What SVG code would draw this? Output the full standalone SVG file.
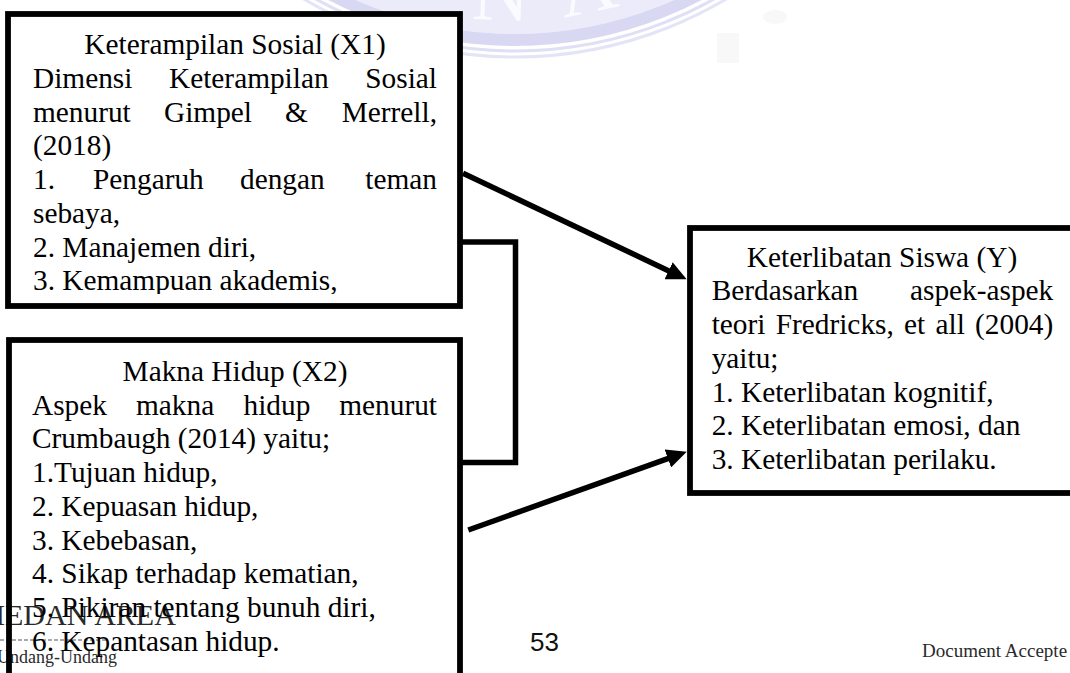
<svg xmlns="http://www.w3.org/2000/svg" width="1070" height="673" viewBox="0 0 1070 673">
<style>
.t{font-family:"Liberation Serif","Times New Roman",serif;font-size:29.33px;fill:#000}
.e{text-anchor:end}
.m{text-anchor:middle}
.box{fill:#fff;stroke:#000;stroke-width:5.8}
.open{fill:none}
.conn{fill:none;stroke:#000;stroke-width:5.5}
.ft{font-family:"Liberation Serif","Times New Roman",serif;fill:#2a2a2a}
.pg{font-family:"Liberation Sans",Arial,sans-serif;fill:#111}
</style>
<defs>
<marker id="ah" markerUnits="userSpaceOnUse" viewBox="0 0 20 19" markerWidth="20" markerHeight="19" refX="5" refY="9.5" orient="auto">
<path d="M0,0 L20,9.5 L0,19 Z" fill="#000"/>
</marker>
<clipPath id="c1"><rect x="12" y="17" width="445" height="277"/></clipPath>
</defs>
<rect width="1070" height="673" fill="#fff"/>
<g id="watermark">
<circle cx="515" cy="-356" r="362" fill="none" stroke="#ebebfa" stroke-width="56"/>
<circle cx="515" cy="-356" r="396" fill="none" stroke="#d8d8f3" stroke-width="12"/>
<circle cx="515" cy="-356" r="407" fill="none" stroke="#dfdff6" stroke-width="3"/>
<circle cx="515" cy="-356" r="413" fill="none" stroke="#e4e4f7" stroke-width="3"/>
<text x="500" y="20" font-family="Liberation Serif" font-size="80" fill="#fafaff" text-anchor="middle" transform="rotate(2 500 20)">N</text>
<text x="592" y="12" font-family="Liberation Serif" font-size="80" fill="#fafaff" text-anchor="middle" transform="rotate(-12 592 12)">A</text>
<rect x="717" y="33" width="22" height="30" fill="#f8f8f9"/>
<ellipse cx="775" cy="17" rx="12" ry="7" fill="#f8f8f9"/>
</g>
<g id="footer">
<text class="ft" x="-21.7" y="625" font-size="30">MEDAN AREA</text>
<line x1="0" y1="640" x2="108" y2="640" stroke="#555" stroke-width="1" stroke-dasharray="4 2"/>
<text class="ft" x="-3" y="663" font-size="18">Undang-Undang</text>
<text class="pg" x="530" y="650.5" font-size="26">53</text>
<text class="ft" x="922" y="657" font-size="19">Document Accepte</text>
</g>
<g id="connectors">
<path class="conn" d="M460,242 H515.5 V462.5 H460"/>
<line class="conn" x1="463" y1="173.3" x2="673.1" y2="272.9" marker-end="url(#ah)"/>
<line class="conn" x1="468.3" y1="530" x2="672.6" y2="456.8" marker-end="url(#ah)"/>
</g>
<g id="node-x1">
<rect class="box" x="8" y="14" width="452" height="292"/>
<g clip-path="url(#c1)">
<text class="t m" x="235" y="54.3">Keterampilan Sosial (X1)</text>
<text class="t" x="33" y="88">Dimensi</text>
<text class="t" x="169" y="88">Keterampilan</text>
<text class="t e" x="437" y="88">Sosial</text>
<text class="t" x="33" y="121.7">menurut</text>
<text class="t" x="164" y="121.7">Gimpel</text>
<text class="t" x="285" y="121.7">&amp;</text>
<text class="t e" x="437" y="121.7">Merrell,</text>
<text class="t" x="33" y="155.4">(2018)</text>
<text class="t" x="33" y="189.1">1.</text>
<text class="t" x="93" y="189.1">Pengaruh</text>
<text class="t" x="240" y="189.1">dengan</text>
<text class="t e" x="437" y="189.1">teman</text>
<text class="t" x="33" y="222.8">sebaya,</text>
<text class="t" x="33" y="256.5">2. Manajemen diri,</text>
<text class="t" x="33" y="290.2">3. Kemampuan akademis,</text>
</g>
</g>
<g id="node-x2">
<rect class="box open" x="9" y="340" width="451" height="360"/>
<text class="t m" x="235" y="381">Makna Hidup (X2)</text>
<text class="t" x="32" y="414.7">Aspek</text>
<text class="t" x="136" y="414.7">makna</text>
<text class="t" x="243.5" y="414.7">hidup</text>
<text class="t e" x="437" y="414.7">menurut</text>
<text class="t" x="32" y="448.4">Crumbaugh (2014) yaitu;</text>
<text class="t" x="32" y="482.1">1.Tujuan hidup,</text>
<text class="t" x="32" y="515.8">2. Kepuasan hidup,</text>
<text class="t" x="32" y="549.5">3. Kebebasan,</text>
<text class="t" x="32" y="583.2">4. Sikap terhadap kematian,</text>
<text class="t" x="32" y="616.9">5. Pikiran tentang bunuh diri,</text>
<text class="t" x="32" y="650.6">6. Kepantasan hidup.</text>
</g>
<g id="node-y">
<rect class="box" x="690" y="228" width="400" height="265"/>
<text class="t m" x="882" y="266.7">Keterlibatan Siswa (Y)</text>
<text class="t" x="711.7" y="300.4">Berdasarkan</text>
<text class="t e" x="1053.3" y="300.4">aspek-aspek</text>
<text class="t" x="711.7" y="334.1">teori</text>
<text class="t" x="775.7" y="334.1">Fredricks,</text>
<text class="t" x="904.1" y="334.1">et</text>
<text class="t" x="935.5" y="334.1">all</text>
<text class="t e" x="1053.3" y="334.1">(2004)</text>
<text class="t" x="711.7" y="367.8">yaitu;</text>
<text class="t" x="711.7" y="401.5">1. Keterlibatan kognitif,</text>
<text class="t" x="711.7" y="435.2">2. Keterlibatan emosi, dan</text>
<text class="t" x="711.7" y="468.9">3. Keterlibatan perilaku.</text>
</g>
</svg>
